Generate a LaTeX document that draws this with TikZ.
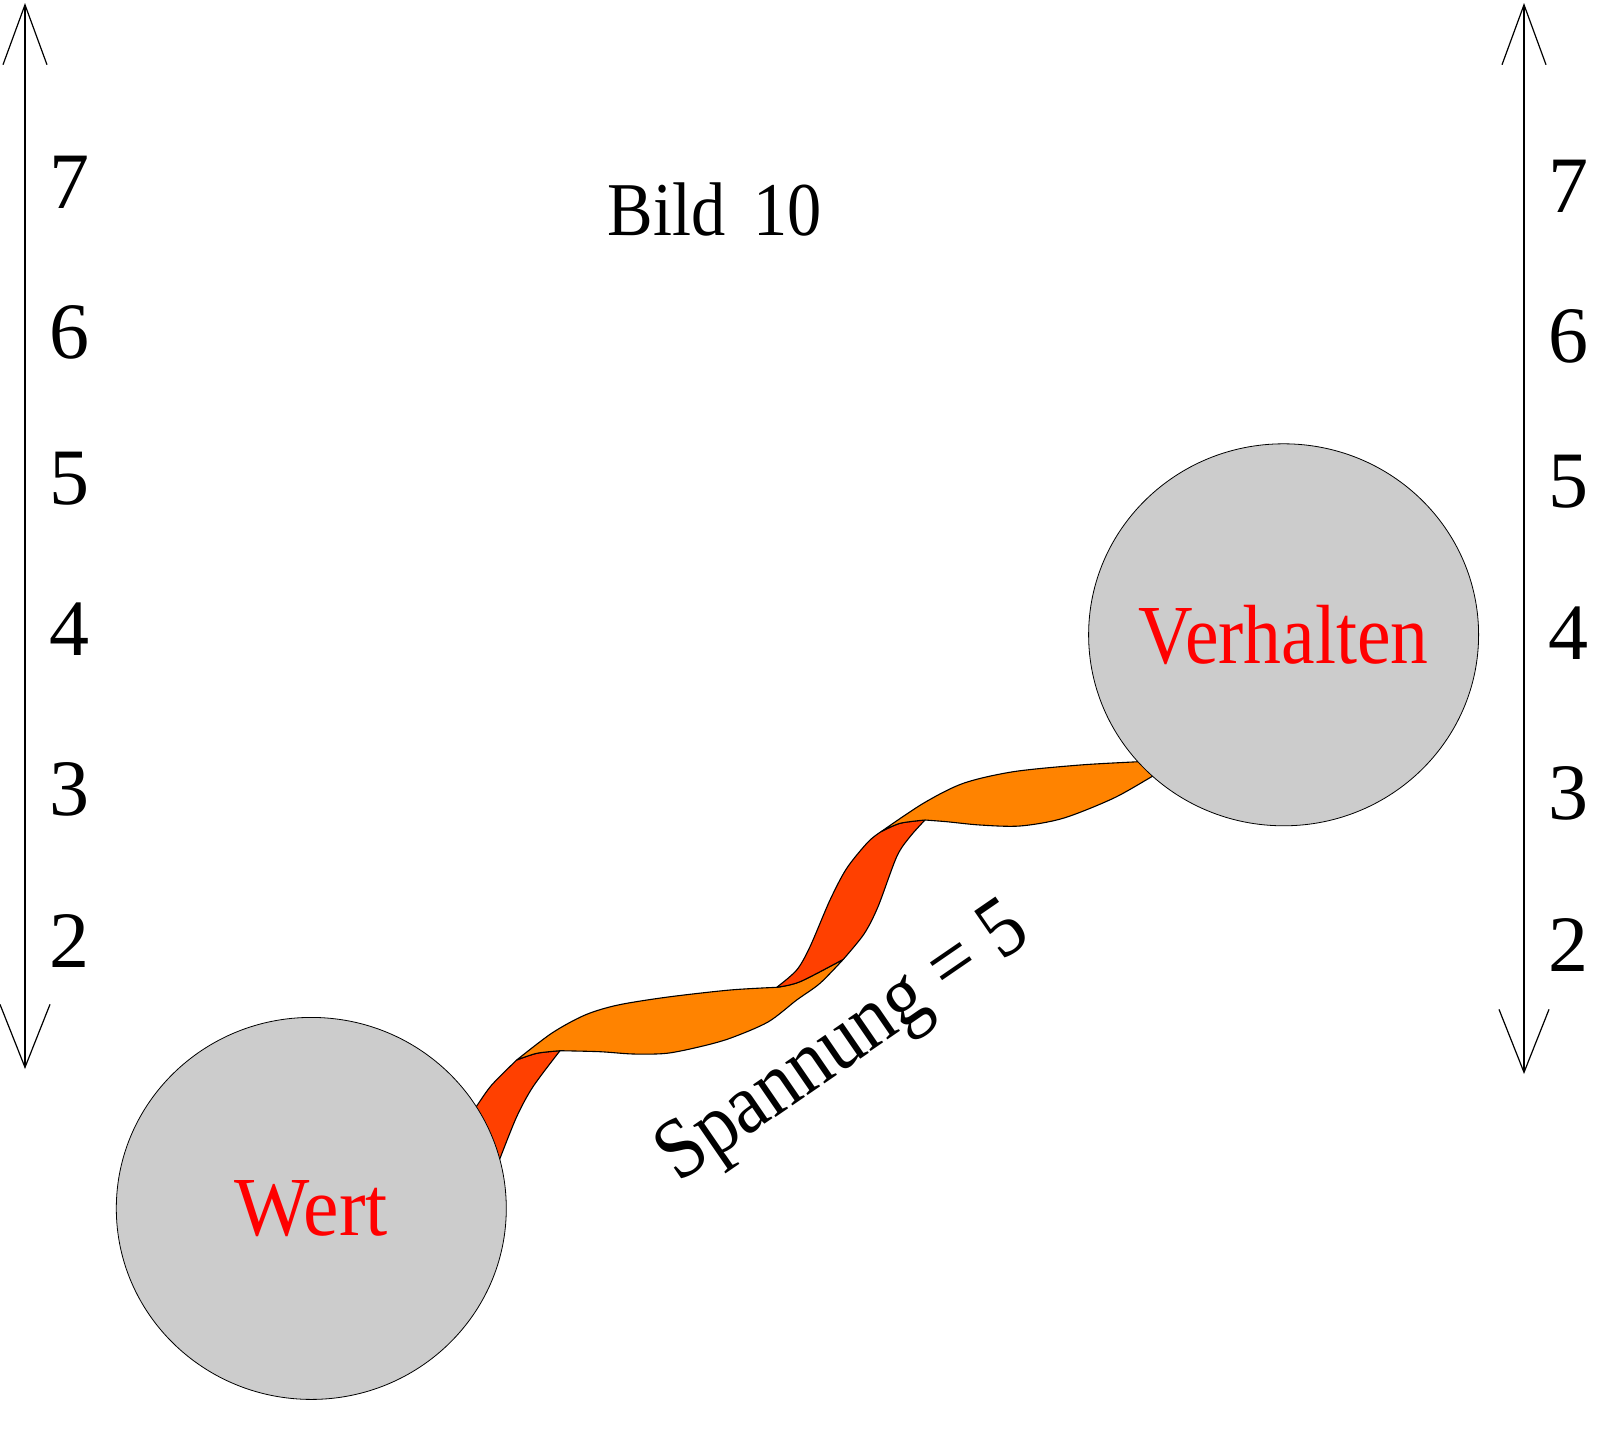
\documentclass[tikz,border=0pt]{standalone}
\usepackage{fontspec}
\setmainfont{Liberation Serif}
\usepackage{graphicx}
\usepackage{xcolor}
\usetikzlibrary{arrows.meta, shapes.geometric}
\definecolor{bandfront}{RGB}{255,131,0}
\definecolor{bandback}{RGB}{255,64,0}
\definecolor{discgray}{RGB}{204,204,204}
\newcommand{\slim}[1]{\scalebox{0.9}[1]{#1}}

\begin{document}
\begin{tikzpicture}[x=1pt, y=-1pt,
    disc/.style={ellipse, draw=black, line width=0.8pt, fill=discgray,
                 minimum width=390pt, minimum height=382pt, inner sep=0pt},
    lbl/.style={text=red, font=\fontsize{84}{90}\selectfont, inner sep=0pt},
    digit/.style={font=\fontsize{80}{90}\selectfont, inner sep=0pt},
    band/.style={draw=black, line width=1.1pt, line join=round},
    scaleaxis/.style={line width=1.2pt,
                 {Straight Barb[length=60pt,width=44pt]}-{Straight Barb[length=63pt,width=50pt]}}
]
\useasboundingbox (0,0) rectangle (1616,1430);

\coordinate (ltop) at (25,3);
\coordinate (lbot) at (25,1069);
\coordinate (rtop) at (1524,3);
\coordinate (rbot) at (1524,1074);
\draw[scaleaxis] (ltop) -- (lbot);
\draw[scaleaxis] (rtop) -- (rbot);

\foreach \n/\yl/\yr in {7/182/186.5, 6/332/336, 5/479/481.3, 4/628.7/632.8, 3/789.5/793.6, 2/941/945}{
  \node[digit] (l\n) at (69,\yl) {\n};
  \node[digit] (r\n) at (1568,\yr) {\n};
}

\node[font=\fontsize{76}{90}\selectfont, anchor=base, inner sep=0pt] (title) at (714.5,235)
    {\slim{Bild\hspace{31pt}10}};

\coordinate (t1a) at (516.7,1060);
\coordinate (t1b) at (560,1050.7);
\coordinate (t2a) at (776.7,987.3);
\coordinate (t2b) at (843.3,959.3);
\coordinate (t3a) at (881,831.7);
\coordinate (t3b) at (925,820);

\filldraw[band, fill=bandback] plot[smooth] coordinates {(472,1113) (476.7,1106) (491.7,1085) (t1a)}
    -- plot[smooth] coordinates {(t1a) (536.7,1053.3) (t1b)}
    -- plot[smooth] coordinates {(t1b) (533,1086.7) (516.7,1116.7) (500,1158.3) (497,1166)} -- cycle;
\filldraw[band, fill=bandfront] plot[smooth] coordinates {(t1a) (552,1033) (585,1015) (618,1005) (668,997) (730,990) (t2a)}
    -- plot[smooth] coordinates {(t2a) (800,981.7) (t2b)}
    -- plot[smooth] coordinates {(t2b) (820,983.3) (796.7,1000) (768,1022) (730,1038.3) (700,1046.7) (666.7,1053.3) (633.3,1054) (600,1051.7) (t1b)}
    -- plot[smooth] coordinates {(t1b) (536.7,1053.3) (t1a)} -- cycle;
\filldraw[band, fill=bandback] plot[smooth] coordinates {(t2a) (796.7,970) (810,946.7) (830,900) (846.7,868.3) (868,842) (t3a)}
    -- plot[smooth] coordinates {(t3a) (900,823.3) (t3b)}
    -- plot[smooth] coordinates {(t3b) (910,836.7) (896.7,856.7) (878,906.7) (864,934) (t2b)}
    -- plot[smooth] coordinates {(t2b) (800,981.7) (t2a)} -- cycle;
\filldraw[band, fill=bandfront] plot[smooth] coordinates {(t3a) (923.3,803.3) (963.3,783.3) (1013.3,771.7) (1080,765) (1138.3,761.7) (1150,761)}
    -- plot[smooth] coordinates {(1160,772) (1151.7,776.7) (1113.3,798.3) (1063,818.3) (1020,826) (980,825) (946.7,821.7) (t3b)}
    -- plot[smooth] coordinates {(t3b) (900,823.3) (t3a)} -- cycle;

\node[disc] (wert) at (311.3,1208.4) {};
\node[disc] (verhalten) at (1283.6,634.8) {};
\node[lbl] (wertlbl) at (wert) {\scalebox{0.95}[1]{Wert}};
\node[lbl] (verhaltenlbl) at (verhalten) {\slim{Verhalten}};

\node[font=\fontsize{86}{90}\selectfont, rotate=34.5, anchor=base, inner sep=0pt] (tension) at (856,1062)
    {\slim{Spannung = 5}};
\end{tikzpicture}
\end{document}
